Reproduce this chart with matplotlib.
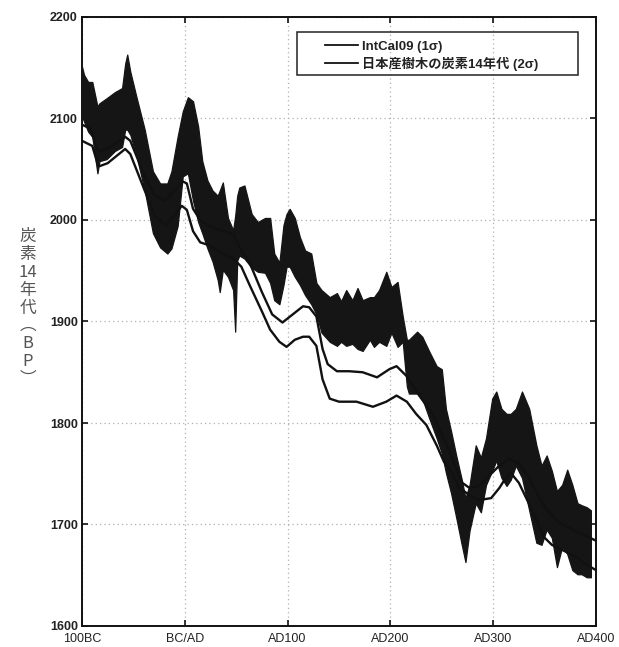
import matplotlib
matplotlib.use('Agg')
import matplotlib.pyplot as plt
from matplotlib.patches import Rectangle
from matplotlib.lines import Line2D

# ---------------- data ----------------
band_years = [-100, -98, -94, -90, -85, -83, -76, -68, -61, -58,
              -56, -53, -47, -39, -31, -24, -17, -13, -7, -2,
              3, 8, 13, 17, 22, 27, 32, 34, 37, 42,
              47, 49, 51, 53, 58, 65, 71, 78, 83, 87,
              92, 96, 99, 102, 107, 112, 117, 123, 128, 133,
              141, 148, 152, 157, 163, 168, 173, 180, 184, 189,
              196, 201, 207, 212, 216, 218, 226, 231, 238, 245,
              250, 254, 259, 264, 269, 273, 277, 283, 288, 293,
              299, 303, 308, 313, 317, 322, 328, 335, 342, 347,
              352, 357, 362, 367, 372, 377, 382, 386, 391, 395]
band_top = [2151, 2143, 2136, 2136, 2112, 2115, 2120, 2126, 2130, 2154,
            2163, 2146, 2121, 2089, 2048, 2036, 2036, 2048, 2082, 2107,
            2121, 2117, 2092, 2058, 2039, 2029, 2024, 2029, 2037, 2002,
            1990, 2004, 2024, 2032, 2034, 2006, 1998, 2002, 2002, 1967,
            1958, 1995, 2006, 2011, 2002, 1983, 1970, 1967, 1938, 1931,
            1924, 1928, 1920, 1931, 1921, 1933, 1921, 1924, 1924, 1931,
            1949, 1934, 1939, 1905, 1882, 1882, 1890, 1885, 1870, 1856,
            1853, 1814, 1792, 1768, 1746, 1726, 1739, 1778, 1766, 1785,
            1824, 1831, 1814, 1809, 1809, 1814, 1831, 1814, 1778, 1758,
            1768, 1753, 1733, 1739, 1754, 1739, 1721, 1719, 1717, 1714]
band_bottom = [2102, 2097, 2087, 2082, 2046, 2058, 2060, 2068, 2072, 2089,
               2089, 2084, 2063, 2029, 1987, 1973, 1967, 1972, 1994, 2043,
               2046, 2019, 1998, 1987, 1972, 1959, 1941, 1929, 1951, 1944,
               1931, 1890, 1960, 1965, 1962, 1953, 1949, 1948, 1938, 1921,
               1917, 1936, 1954, 1954, 1944, 1936, 1926, 1917, 1907, 1889,
               1880, 1876, 1880, 1876, 1878, 1873, 1871, 1882, 1875, 1880,
               1876, 1889, 1875, 1880, 1836, 1829, 1829, 1824, 1804, 1785,
               1770, 1751, 1731, 1707, 1682, 1663, 1694, 1721, 1712, 1739,
               1753, 1763, 1746, 1738, 1744, 1758, 1746, 1714, 1682, 1680,
               1695, 1687, 1658, 1678, 1671, 1655, 1651, 1651, 1648, 1648]

intcal_upper_years = [-100, -92, -85, -83, -75, -58, -53, -39, -29, -19,
                      -10, -2, 2, 8, 15, 24, 34, 47, 55, 63,
                      75, 85, 95, 105, 115, 121, 128, 134, 139, 148,
                      160, 173, 187, 199, 206, 216, 228, 241, 254, 262,
                      270, 277, 286, 296, 306, 316, 325, 335, 345, 354,
                      364, 379, 390, 400]
intcal_upper = [2094, 2090, 2070, 2068, 2070, 2082, 2078, 2043, 2024, 2019,
                2029, 2038, 2036, 2011, 2000, 1994, 1990, 1986, 1970, 1958,
                1929, 1907, 1899, 1907, 1915, 1914, 1905, 1873, 1858, 1851,
                1851, 1850, 1845, 1853, 1856, 1846, 1827, 1809, 1780, 1760,
                1741, 1736, 1738, 1748, 1758, 1765, 1760, 1746, 1726, 1712,
                1702, 1694, 1689, 1684]

intcal_lower_years = [-100, -90, -85, -83, -75, -58, -53, -39, -29, -19,
                      -10, -3, 2, 8, 15, 24, 34, 47, 55, 63,
                      75, 83, 92, 99, 107, 115, 121, 128, 134, 141,
                      150, 167, 183, 196, 206, 216, 225, 235, 245, 252,
                      259, 267, 277, 286, 298, 306, 311, 317, 325, 335,
                      342, 350, 357, 367, 381, 390, 400]
intcal_lower = [2078, 2073, 2056, 2053, 2056, 2070, 2065, 2029, 2004, 1995,
                2004, 2014, 2010, 1989, 1978, 1975, 1968, 1962, 1954, 1936,
                1910, 1892, 1880, 1875, 1882, 1885, 1885, 1876, 1843, 1824,
                1821, 1821, 1816, 1821, 1827, 1821, 1809, 1798, 1778, 1762,
                1753, 1736, 1729, 1724, 1726, 1736, 1744, 1751, 1741, 1720,
                1704, 1687, 1680, 1675, 1668, 1661, 1655]

xtick_values = [-100, 0, 100, 200, 300, 400]
xtick_labels = ['100BC', 'BC/AD', 'AD100', 'AD200', 'AD300', 'AD400']
ytick_values = [1600, 1700, 1800, 1900, 2000, 2100, 2200]
legend_labels = ['IntCal09 (1σ)', '日本産樹木の炭素14年代 (2σ)']
ylabel_chars = ['炭', '素', '14', '年', '代', '︵', 'B', 'P', '︶']

# ---------------- figure ----------------
plt.rcParams['font.family'] = ['Liberation Sans', 'Noto Sans CJK JP', 'DejaVu Sans']

W, H = 619, 647
fig = plt.figure(figsize=(W / 100, H / 100), dpi=100)
ax_l, ax_r, ax_t, ax_b = 82, 596, 17, 626
ax = fig.add_axes([ax_l / W, 1 - ax_b / H, (ax_r - ax_l) / W, (ax_b - ax_t) / H])

ax.fill_between(band_years, band_bottom, band_top, facecolor='#151515',
                edgecolor='#151515', linewidth=0.9, zorder=3)
ax.plot(intcal_upper_years, intcal_upper, color='#111111', lw=1.7, zorder=4,
        solid_joinstyle='round')
ax.plot(intcal_lower_years, intcal_lower, color='#111111', lw=1.7, zorder=4,
        solid_joinstyle='round')

ax.set_xlim(-100, 400)
ax.set_ylim(1600, 2200)
ax.set_xticks(xtick_values)
ax.set_xticklabels(xtick_labels)
ax.set_yticks(ytick_values)
ax.grid(True, color='#b0b0b0', linestyle=(0, (1, 2.5)), linewidth=0.9)
ax.set_axisbelow(True)
ax.tick_params(direction='in', length=4, width=1.3, top=True, right=True,
               colors='#222222')
ax.tick_params(axis='y', labelsize=9, pad=3)
ax.tick_params(axis='x', labelsize=9, pad=5)
for lab in ax.get_yticklabels():
    lab.set_fontweight('bold')
for s in ax.spines.values():
    s.set_linewidth(1.4)
    s.set_color('#111111')

# y label: stacked vertical characters
fig.text(28 / W, 1 - 308 / H, '\n'.join(ylabel_chars), ha='center', va='center',
         fontsize=12, color='#555555', linespacing=1.06,
         family=['Noto Sans CJK JP', 'DejaVu Sans'])

# legend
handles = [Line2D([], [], color='#111111', lw=1.3) for _ in legend_labels]
leg = fig.legend(handles, legend_labels, loc='center left',
                 bbox_to_anchor=(325 / W, 1 - 55.5 / H), frameon=False,
                 handlelength=2.5, handletextpad=0.3, labelspacing=0.3,
                 borderpad=0, borderaxespad=0,
                 prop={'family': ['Liberation Sans', 'Noto Sans CJK JP'],
                       'size': 9.5, 'weight': 'bold'})
for t in leg.get_texts():
    t.set_color('#222222')
fig.patches.append(Rectangle((297 / W, 1 - 75 / H), (578 - 297) / W, 43 / H,
                             transform=fig.transFigure, fill=False,
                             edgecolor='#222222', linewidth=1.1, zorder=5))

fig.savefig('out.png', dpi=100, facecolor='white')
